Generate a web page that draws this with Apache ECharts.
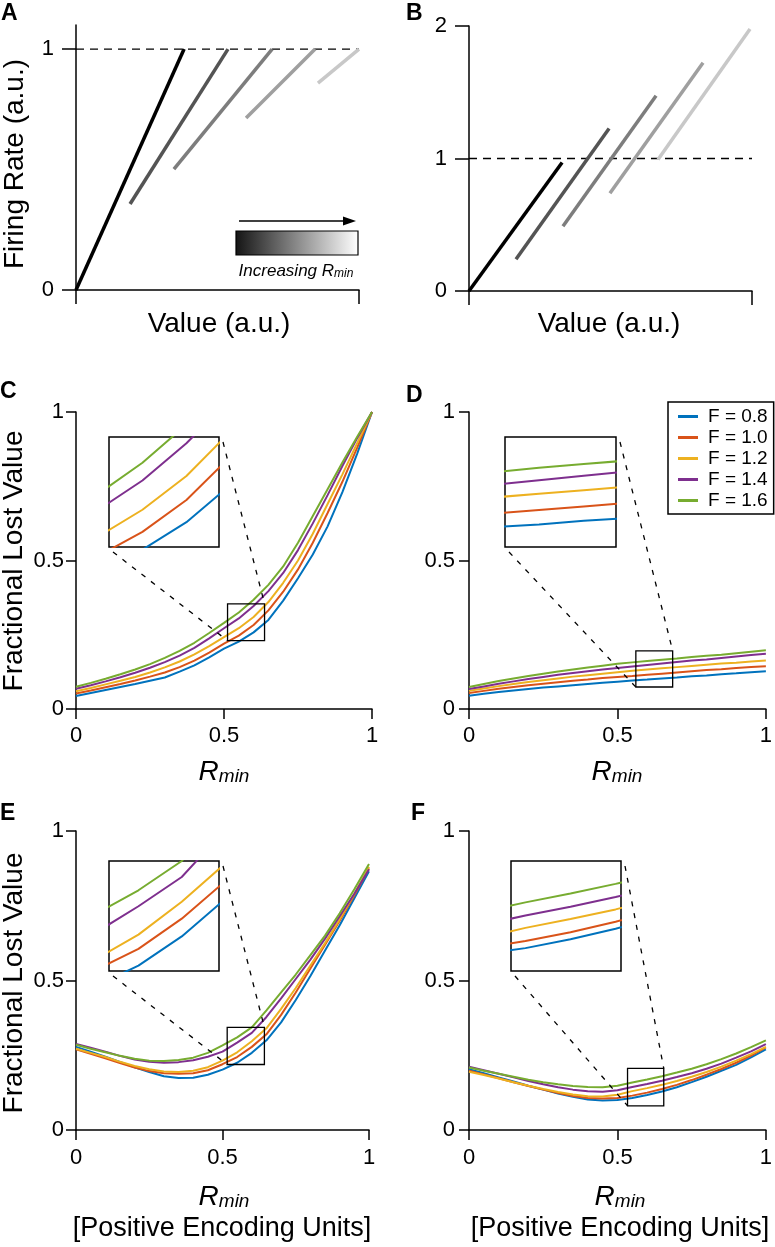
<!DOCTYPE html>
<html><head><meta charset="utf-8">
<script src="https://cdn.jsdelivr.net/npm/echarts@6/dist/echarts.min.js"></script>
<style>html,body{margin:0;padding:0;background:#fff}#c{width:775px;height:1247px}</style>
</head><body><div id="c"></div>
<script>
const FONT = '"Liberation Sans", Arial, Helvetica, sans-serif';

// ---- Panel A: firing-rate segments (start x, start y, end x, end y) ----
const A_x0 = [0, 0.191, 0.346, 0.601, 0.855];
const A_y0 = [0, 0.357, 0.502, 0.714, 0.859];
const A_x1 = [0.382, 0.537, 0.693, 0.845, 1.0];
const A_y1 = [1, 1, 1, 1, 1];
// ---- Panel B ----
const B_x0 = [0, 0.166, 0.332, 0.498, 0.668];
const B_y0 = [0, 0.24, 0.489, 0.737, 0.992];
const B_x1 = [0.329, 0.495, 0.661, 0.827, 0.993];
const B_y1 = [0.97, 1.226, 1.474, 1.722, 1.977];
const refLevel = [1, 1];
const grays = ['#000000', '#545454', '#7d7d7d', '#9f9f9f', '#c8c8c8'];

// ---- Panels C-F ----
const rmin = [0,0.05,0.1,0.15,0.2,0.25,0.3,0.35,0.4,0.45,0.5,0.55,0.6,0.65,0.7,0.75,0.8,0.85,0.9,0.95,1];
const fNames = ['F = 0.8','F = 1.0','F = 1.2','F = 1.4','F = 1.6'];
const fColors = ['#0072BD','#D95319','#EDB120','#7E2F8E','#77AC30'];

const C_f08 = [0.044,0.054,0.064,0.074,0.084,0.095,0.106,0.126,0.147,0.174,0.203,0.227,0.258,0.300,0.365,0.440,0.520,0.615,0.730,0.860,1.0];
const C_f10 = [0.052,0.062,0.073,0.084,0.096,0.109,0.123,0.141,0.163,0.190,0.220,0.247,0.283,0.332,0.395,0.470,0.560,0.660,0.765,0.880,1.0];
const C_f12 = [0.060,0.071,0.083,0.095,0.108,0.123,0.140,0.160,0.184,0.212,0.242,0.272,0.310,0.360,0.425,0.500,0.590,0.690,0.790,0.895,1.0];
const C_f14 = [0.068,0.080,0.093,0.107,0.122,0.139,0.158,0.180,0.206,0.238,0.272,0.305,0.347,0.397,0.458,0.535,0.625,0.720,0.818,0.912,1.0];
const C_f16 = [0.075,0.088,0.102,0.117,0.133,0.151,0.172,0.196,0.223,0.256,0.290,0.325,0.368,0.418,0.480,0.560,0.650,0.740,0.830,0.917,1.0];

const D_f08 = [0.045,0.051,0.057,0.062,0.067,0.072,0.076,0.080,0.084,0.088,0.092,0.096,0.099,0.103,0.106,0.110,0.113,0.117,0.120,0.124,0.127];
const D_f10 = [0.054,0.061,0.068,0.074,0.080,0.085,0.090,0.095,0.099,0.104,0.108,0.111,0.115,0.119,0.123,0.127,0.131,0.134,0.138,0.141,0.144];
const D_f12 = [0.061,0.069,0.077,0.084,0.091,0.097,0.103,0.109,0.114,0.119,0.124,0.129,0.133,0.137,0.141,0.145,0.149,0.153,0.156,0.160,0.163];
const D_f14 = [0.067,0.076,0.085,0.093,0.101,0.108,0.115,0.121,0.127,0.133,0.138,0.143,0.148,0.153,0.158,0.163,0.167,0.172,0.177,0.182,0.186];
const D_f16 = [0.074,0.084,0.094,0.103,0.111,0.119,0.126,0.133,0.140,0.146,0.152,0.157,0.162,0.166,0.170,0.175,0.179,0.183,0.188,0.193,0.198];

const E_f08 = [0.278,0.262,0.245,0.228,0.210,0.194,0.180,0.174,0.175,0.185,0.202,0.225,0.258,0.300,0.360,0.435,0.515,0.600,0.685,0.775,0.865];
const E_f10 = [0.270,0.255,0.240,0.224,0.209,0.197,0.190,0.188,0.190,0.200,0.220,0.244,0.278,0.320,0.385,0.460,0.540,0.620,0.700,0.785,0.875];
const E_f12 = [0.272,0.258,0.244,0.228,0.214,0.203,0.196,0.194,0.198,0.210,0.232,0.260,0.297,0.340,0.405,0.475,0.550,0.625,0.705,0.790,0.880];
const E_f14 = [0.288,0.275,0.262,0.248,0.236,0.228,0.225,0.227,0.233,0.245,0.262,0.292,0.325,0.378,0.440,0.505,0.570,0.640,0.715,0.790,0.872];
const E_f16 = [0.285,0.272,0.260,0.248,0.238,0.232,0.231,0.234,0.242,0.258,0.283,0.310,0.343,0.400,0.460,0.520,0.585,0.650,0.725,0.805,0.890];

const F_f08 = [0.203,0.190,0.176,0.162,0.148,0.135,0.122,0.111,0.102,0.099,0.100,0.107,0.117,0.129,0.143,0.160,0.178,0.198,0.218,0.243,0.270];
const F_f10 = [0.198,0.186,0.173,0.160,0.147,0.135,0.124,0.114,0.107,0.105,0.107,0.115,0.125,0.137,0.151,0.167,0.185,0.204,0.225,0.249,0.276];
const F_f12 = [0.195,0.184,0.172,0.160,0.148,0.137,0.127,0.119,0.113,0.112,0.118,0.130,0.140,0.151,0.164,0.178,0.194,0.212,0.232,0.254,0.278];
const F_f14 = [0.212,0.200,0.188,0.176,0.164,0.153,0.143,0.135,0.130,0.128,0.133,0.144,0.154,0.165,0.177,0.190,0.205,0.222,0.242,0.263,0.287];
const F_f16 = [0.209,0.198,0.188,0.178,0.168,0.160,0.153,0.147,0.144,0.143,0.148,0.159,0.169,0.180,0.192,0.205,0.220,0.237,0.256,0.277,0.300];

// zoom windows [xmin, xmax, ymin, ymax]
const zoomC = [0.512, 0.637, 0.230, 0.354];
const zoomD = [0.562, 0.686, 0.074, 0.196];
const zoomE = [0.516, 0.643, 0.219, 0.343];
const zoomF = [0.534, 0.656, 0.081, 0.206];

const chart = echarts.init(document.getElementById('c'), null, {renderer: 'canvas'});

const grids = [
  {left: 76, top: 25, width: 283, height: 265},   // A
  {left: 469, top: 26, width: 283, height: 265},  // B
  {left: 76, top: 412, width: 296, height: 297},  // C
  {left: 469, top: 412, width: 297, height: 297}, // D
  {left: 76, top: 831, width: 293, height: 299},  // E
  {left: 469, top: 831, width: 300, height: 299}, // F
  {left: 109, top: 437, width: 110, height: 110, show: true, borderColor: '#000', borderWidth: 1.5, backgroundColor: '#fff'},
  {left: 505, top: 437, width: 111, height: 110, show: true, borderColor: '#000', borderWidth: 1.5, backgroundColor: '#fff'},
  {left: 109, top: 861, width: 110, height: 110, show: true, borderColor: '#000', borderWidth: 1.5, backgroundColor: '#fff'},
  {left: 511, top: 861, width: 110, height: 110, show: true, borderColor: '#000', borderWidth: 1.5, backgroundColor: '#fff'}
];

const LS = {color: '#000', width: 1.5};
function mainAxis(grid, min, max, interval, tickLen, label, margin, extra) {
  return Object.assign({
    gridIndex: grid, type: 'value', min: min, max: max, interval: interval,
    axisLine: {show: true, onZero: false, lineStyle: LS},
    axisTick: {show: true, inside: false, length: tickLen, lineStyle: LS},
    axisLabel: {show: label, fontSize: 22, margin: margin, color: '#000', fontFamily: FONT},
    splitLine: {show: false}
  }, extra || {});
}
function insetAxis(grid, min, max) {
  return {gridIndex: grid, type: 'value', min: min, max: max, show: false, splitLine: {show: false}};
}

const zooms = [zoomC, zoomD, zoomE, zoomF];
const xAxis = [
  mainAxis(0, 0, 1, 1, 14, false, 10),
  mainAxis(1, 0, 1, 1, 14, false, 10),
  mainAxis(2, 0, 1, 0.5, 10, true, 16),
  mainAxis(3, 0, 1, 0.5, 10, true, 16),
  mainAxis(4, 0, 1, 0.5, 10, true, 17),
  mainAxis(5, 0, 1, 0.5, 10, true, 17)
];
const yAxis = [
  mainAxis(0, 0, 1.1, 1, 14, true, 22),
  mainAxis(1, 0, 2, 1, 14, true, 22),
  mainAxis(2, 0, 1, 0.5, 10, true, 12),
  mainAxis(3, 0, 1, 0.5, 10, true, 14),
  mainAxis(4, 0, 1, 0.5, 10, true, 12),
  mainAxis(5, 0, 1, 0.5, 10, true, 14)
];
yAxis[0].axisTick.customValues = [0, 1];
yAxis[0].axisLabel.customValues = [0, 1];
zooms.forEach((z, k) => {
  xAxis.push(insetAxis(6 + k, z[0], z[1]));
  yAxis.push(insetAxis(6 + k, z[2], z[3]));
});

const series = [];
[[A_x0, A_y0, A_x1, A_y1, 0], [B_x0, B_y0, B_x1, B_y1, 1]].forEach(([x0, y0, x1, y1, g]) => {
  series.push({type: 'line', xAxisIndex: g, yAxisIndex: g, data: [[0, refLevel[0]], [1, refLevel[1]]],
    symbol: 'none', silent: true, lineStyle: {color: '#000', width: 1.3, type: [8, 6]}, z: 1});
  for (let i = 0; i < 5; i++) {
    series.push({type: 'line', xAxisIndex: g, yAxisIndex: g, data: [[x0[i], y0[i]], [x1[i], y1[i]]],
      symbol: 'none', silent: true, lineStyle: {color: grays[i], width: 3.5, cap: 'butt'}, z: 2});
  }
});

const panels = [
  {main: 2, inset: 6, data: [C_f08, C_f10, C_f12, C_f14, C_f16], zoom: zoomC},
  {main: 3, inset: 7, data: [D_f08, D_f10, D_f12, D_f14, D_f16], zoom: zoomD},
  {main: 4, inset: 8, data: [E_f08, E_f10, E_f12, E_f14, E_f16], zoom: zoomE},
  {main: 5, inset: 9, data: [F_f08, F_f10, F_f12, F_f14, F_f16], zoom: zoomF}
];
panels.forEach(p => {
  p.data.forEach((vals, i) => {
    const pts = rmin.map((x, j) => [x, vals[j]]);
    const base = {type: 'line', name: fNames[i], symbol: 'none', silent: true, data: pts,
      lineStyle: {color: fColors[i], width: 2}, itemStyle: {color: fColors[i]}};
    const s = Object.assign({}, base, {xAxisIndex: p.main, yAxisIndex: p.main, z: 3});
    if (i === 4) {
      s.markArea = {silent: true, z: 5,
        itemStyle: {color: 'rgba(0,0,0,0)', borderColor: '#000', borderWidth: 1.3},
        label: {show: false},
        data: [[{coord: [p.zoom[0], p.zoom[2]]}, {coord: [p.zoom[1], p.zoom[3]]}]]};
    }
    series.push(s);
    series.push(Object.assign({}, base, {xAxisIndex: p.inset, yAxisIndex: p.inset, z: 4}));
  });
});

chart.setOption({
  animation: false,
  backgroundColor: '#fff',
  grid: grids,
  xAxis: xAxis,
  yAxis: yAxis,
  legend: {
    data: fNames, orient: 'vertical', left: 668, top: 402,
    itemWidth: 20, itemHeight: 3, itemGap: 2, icon: 'rect', selectedMode: false,
    borderColor: '#000', borderWidth: 1.5, padding: [5, 6, 4, 10], backgroundColor: '#fff',
    textStyle: {fontSize: 19, fontFamily: FONT, color: '#000', padding: [0, 0, 0, 5]}
  },
  series: series
});

function txt(x, y, t, size, opts) {
  return {type: 'text', x: x, y: y, silent: true, rotation: (opts && opts.rot) || 0,
    style: Object.assign({text: t, fontSize: size, fontFamily: FONT, fill: '#000',
      align: 'center', verticalAlign: 'middle'}, (opts && opts.style) || {})};
}
function rminTxt(x, y, size) {
  return {type: 'text', x: x, y: y, silent: true,
    style: {text: '{r|R}{s|min}', align: 'center', verticalAlign: 'middle',
      rich: {
        r: {fontSize: size, fontStyle: 'italic', fontFamily: FONT, fill: '#000', verticalAlign: 'bottom'},
        s: {fontSize: Math.round(size * 0.68), fontStyle: 'italic', fontFamily: FONT, fill: '#000', verticalAlign: 'bottom'}
      }}};
}
const bold = {style: {fontWeight: 'bold', align: 'left'}};
const TS = 28;
const els = [
  txt(1, 14, 'A', 23, bold), txt(406, 14, 'B', 23, bold),
  txt(0, 392, 'C', 23, bold), txt(406, 396, 'D', 23, bold),
  txt(0, 814, 'E', 23, bold), txt(411, 814, 'F', 23, bold),
  txt(15, 164, 'Firing Rate (a.u.)', TS, {rot: Math.PI / 2}),
  txt(14, 561, 'Fractional Lost Value', TS, {rot: Math.PI / 2}),
  txt(14, 983, 'Fractional Lost Value', TS, {rot: Math.PI / 2}),
  txt(219, 324, 'Value (a.u.)', TS), txt(609, 324, 'Value (a.u.)', TS),
  rminTxt(224, 772, TS), rminTxt(617, 772, TS),
  rminTxt(224, 1197, TS), rminTxt(620, 1197, TS),
  txt(222, 1229, '[Positive Encoding Units]', 27), txt(620, 1229, '[Positive Encoding Units]', 27),
  {type: 'line', silent: true, shape: {x1: 239, y1: 221, x2: 346, y2: 221}, style: {stroke: '#000', lineWidth: 1.5}},
  {type: 'polygon', silent: true, shape: {points: [[343, 216.5], [356, 221], [343, 225.5]]}, style: {fill: '#000'}},
  {type: 'rect', silent: true, shape: {x: 236, y: 231, width: 122, height: 24},
    style: {fill: {type: 'linear', x: 0, y: 0, x2: 1, y2: 0,
      colorStops: [{offset: 0, color: '#141414'}, {offset: 0.5, color: '#8a8a8a'}, {offset: 1, color: '#ffffff'}]},
      stroke: '#000', lineWidth: 1.2}},
  {type: 'text', x: 296, y: 271, silent: true,
    style: {text: '{a|Increasing }{r|R}{s|min}', align: 'center', verticalAlign: 'middle',
      rich: {
        a: {fontSize: 17, fontStyle: 'italic', fontFamily: FONT, fill: '#000', verticalAlign: 'bottom'},
        r: {fontSize: 17, fontStyle: 'italic', fontFamily: FONT, fill: '#000', verticalAlign: 'bottom'},
        s: {fontSize: 12, fontStyle: 'italic', fontFamily: FONT, fill: '#000', verticalAlign: 'bottom'}
      }}}
];

panels.forEach(p => {
  const z = p.zoom;
  const iBL = chart.convertToPixel({gridIndex: p.inset}, [z[0], z[2]]);
  const iTR = chart.convertToPixel({gridIndex: p.inset}, [z[1], z[3]]);
  const mBL = chart.convertToPixel({gridIndex: p.main}, [z[0], z[2]]);
  const mTR = chart.convertToPixel({gridIndex: p.main}, [z[1], z[3]]);
  [[iBL, mBL], [iTR, mTR]].forEach(([a, b]) => {
    els.push({type: 'line', silent: true, z: 10,
      shape: {x1: a[0] + 4, y1: a[1] + 5, x2: b[0], y2: b[1]},
      style: {stroke: '#000', lineWidth: 1.3, lineDash: [5, 7]}});
  });
});

chart.setOption({graphic: {elements: els}});
</script>
</body></html>
